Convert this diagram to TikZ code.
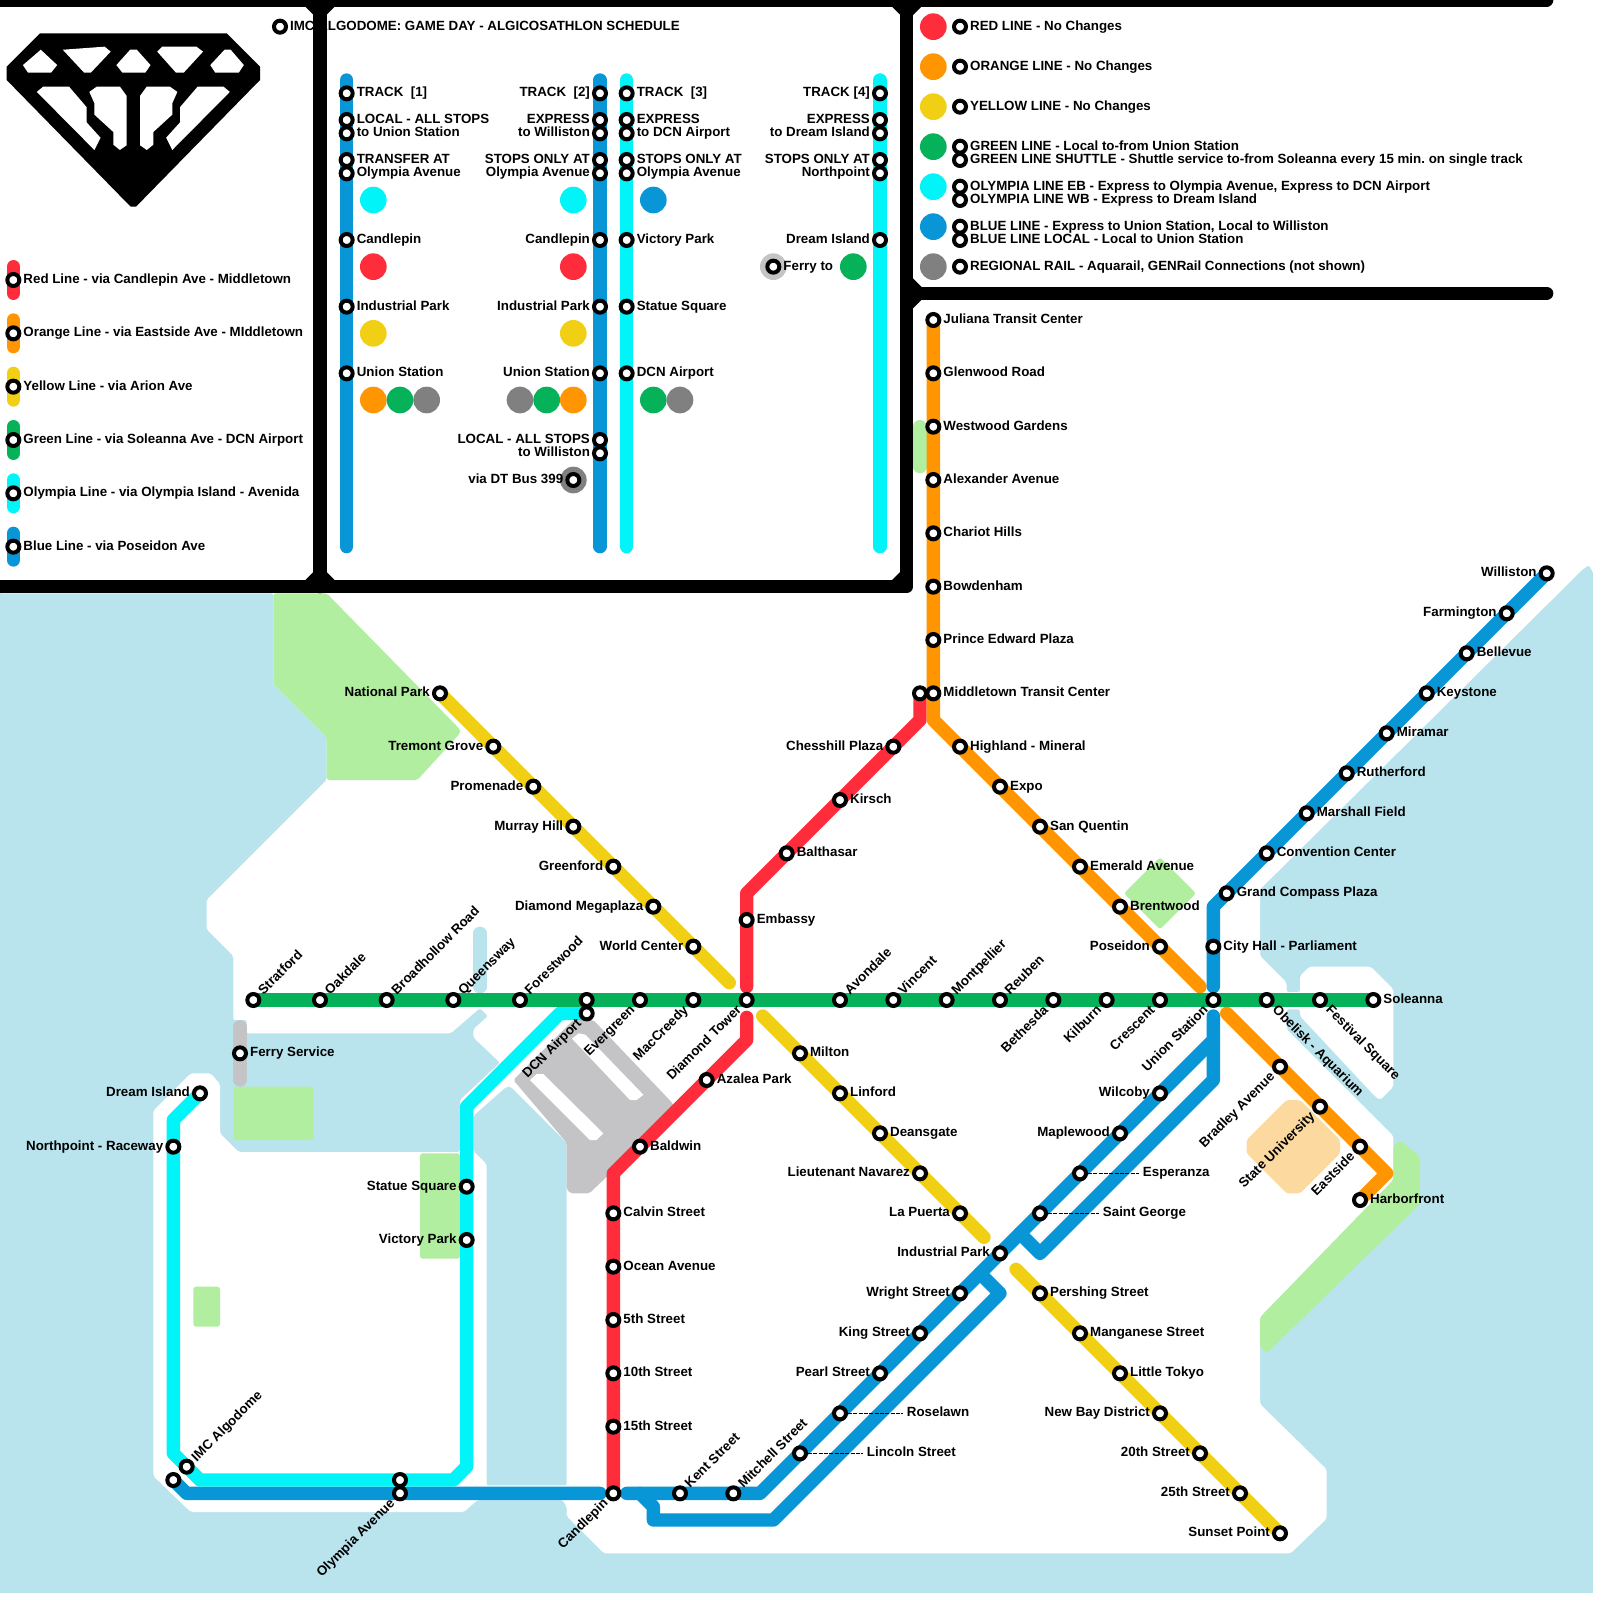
\documentclass[tikz,border=0pt]{standalone}
\usepackage{fontspec}
\setmainfont{Liberation Sans}
\pgfdeclarelayer{land}
\pgfdeclarelayer{lines}
\pgfsetlayers{land,lines,main}
\definecolor{redln}{HTML}{FF2D3C}
\definecolor{orangeln}{HTML}{FF9500}
\definecolor{yellowln}{HTML}{F0CF15}
\definecolor{greenln}{HTML}{05B25A}
\definecolor{cyanln}{HTML}{00F4F8}
\definecolor{blueln}{HTML}{0896D7}
\definecolor{greyln}{HTML}{808080}
\definecolor{ferryln}{HTML}{C4C4C6}
\definecolor{water}{HTML}{B9E4EE}
\definecolor{park}{HTML}{B1EE9F}
\definecolor{campus}{HTML}{FCD99F}
\tikzset{
  stn/.style={circle,draw=black,fill=white,line width=3bp,minimum size=9bp,inner sep=0pt},
  disc/.style={circle,minimum size=20bp,inner sep=0pt},
  txt/.style={inner sep=0pt,font=\bfseries\fontsize{10bp}{10bp}\selectfont\frenchspacing},
  rlbl/.style={txt,xshift=7.4bp,yshift=-2.7bp,anchor=base west},
  llbl/.style={txt,xshift=-7.4bp,yshift=-2.7bp,anchor=base east},
  nelbl/.style={txt,xshift=7.5bp,yshift=3.3bp,rotate=45,anchor=base west},
  swlbl/.style={txt,xshift=-3.3bp,yshift=-8bp,rotate=45,anchor=base east},
  selbl/.style={txt,xshift=3.8bp,yshift=-8bp,rotate=-45,anchor=base west},
  nolbl/.style={txt},
  route/.style={line width=10bp,line cap=round,line join=round},
  bar/.style={line width=10bp,line cap=round,line join=round,draw=black},
  leader/.style={draw=black,line width=.8bp,dash pattern=on 3bp off 1bp},
  green area/.style={fill=park,rounded corners=2bp}
}
\begin{document}
\begin{tikzpicture}[x=10bp,y=-10bp]
\useasboundingbox (0,0) rectangle (120,120);
% water and land
\begin{pgfonlayer}{land}
\fill[water] (0,42) rectangle (119.5,119.5);
\fill[white,rounded corners=1.5bp] (0,0) -- (120,0) -- (120,43.2) -- (119.6,43.2) -- (119.2,42.4) -- (118.8,42.6) -- (94.5,66.7) -- (94.5,71.7) -- (96.5,73.7) -- (96.5,74.4) -- (97.5,74.4) -- (97.5,73.2) -- (98.2,72.5) -- (102.8,72.5) -- (104.5,74.2) -- (104.5,81.5) -- (103.5,82.5) -- (103.1,82.2) -- (97.5,76.2) -- (97.5,75.7) -- (96.5,75.7) -- (96.5,77.2) -- (104.5,85.2) -- (104.5,88.5) -- (94.5,98.8) -- (94.5,105.3) -- (99.5,110.2) -- (99.5,113.9) -- (96.8,116.5) -- (45.3,116.5) -- (42.5,113.7) -- (42.5,113) -- (42.2,112.5) -- (35.8,112.5) -- (34.8,113.4) -- (14.3,113.4) -- (11.5,110.7) -- (11.5,83.3) -- (14.3,80.5) -- (15.8,80.5) -- (16.5,81.3) -- (16.5,85) -- (17.9,86.4) -- (34.5,86.4) -- (34.5,82.5) -- (37.5,79.7) -- (35.5,77.8) -- (35.5,77.2) -- (36.6,76.2) -- (36,75.6) -- (33.8,77.5) -- (18.5,77.5) -- (18.5,76.5) -- (17.5,76.5) -- (17.5,71.7) -- (15.5,69.7) -- (15.5,67.5) -- (24.5,58.5) -- (24.5,55.3) -- (20.5,51.3) -- (20.5,44.5) -- (0,44.5) -- cycle;
\fill[water,rounded corners=1.5bp] (35.5,83.7) -- (38,81.5) -- (38.3,81.5) -- (42.5,85.7) -- (42.5,111.4) -- (36.5,111.4) -- (36.5,87.3) -- (35.5,86.3) -- cycle;
\draw[water,route] (36,70) -- (36,74);
% parks
\fill[green area] (20.5,44.5) -- (24.5,44.5) -- (34.5,54.7) -- (34.5,55) -- (31.3,58.5) -- (24.5,58.5) -- (24.5,55.3) -- (20.5,51.3) -- cycle;
\fill[green area] (17.5,81.5) rectangle (23.5,85.5);
\fill[green area] (31.5,86.5) rectangle (34.5,94.4);
\fill[green area] (14.5,96.5) rectangle (16.5,99.5);
\fill[green area] (87,64.3) -- (89.7,67) -- (87,69.7) -- (84.3,67) -- cycle;
\fill[green area] (94.5,98.8) -- (104.5,88.5) -- (104.5,86) -- (105,85.5) -- (106.5,86.75) -- (106.5,90.3) -- (95,101.5) -- (94.5,101) -- cycle;
\draw[park,route] (69,32) -- (69,35);
\fill[campus,rounded corners=2bp] (96.5,82.5) -- (97.5,82.5) -- (100.5,85.5) -- (100.5,86.5) -- (97.5,89.5) -- (96.5,89.5) -- (93.5,86.5) -- (93.5,85.5) -- cycle;
% airport
\fill[ferryln,rounded corners=1.5bp] (38.5,81) -- (43,76.5) -- (44.5,76.5) -- (50.5,82.8) -- (50.5,83.5) -- (44.2,89.5) -- (42.8,89.5) -- (42.5,89.2) -- (42.5,85.7) -- cycle;
\fill[white] (42.9,77.9) -- (43.4,77.5) -- (43.9,77.6) -- (48.25,82.1) -- (47.75,82.5) -- (47.25,82.5) -- cycle;
\fill[white] (39.75,81) -- (40.25,80.55) -- (40.75,80.55) -- (45.25,85) -- (44.75,85.5) -- (44.25,85.5) -- cycle;
\end{pgfonlayer}
% logo
\fill[black] (3,2.5) -- (17,2.5) -- (19.5,5) -- (19.5,6) -- (10.2,15.5) -- (9.8,15.5) -- (0.5,6) -- (0.5,5) -- cycle;
\fill[white] (1.72,4.88) -- (3.06,3.73) -- (4.29,4.88) -- (3.83,5.45) -- (2.1,5.45) -- cycle;
\fill[white] (4.71,3.73) -- (7.85,3.5) -- (8.3,3.87) -- (6.81,5.45) -- (6.31,5.45) -- cycle;
\fill[white] (8.73,4.88) -- (9.76,3.73) -- (10.26,3.73) -- (11.29,4.88) -- (10.9,5.45) -- (9.18,5.45) -- cycle;
\fill[white] (11.79,3.87) -- (12.17,3.5) -- (14.73,3.5) -- (15.23,3.87) -- (13.78,5.45) -- (13.2,5.45) -- cycle;
\fill[white] (15.77,4.88) -- (16.84,3.73) -- (17.3,3.73) -- (18.29,4.88) -- (17.91,5.45) -- (16.15,5.45) -- cycle;
\fill[white] (2.76,6.89) -- (3.25,6.49) -- (5.17,6.49) -- (6.5,8.04) -- (6.5,9.18) -- (7.54,10.33) -- (7.08,11.25) -- cycle;
\fill[white] (6.7,6.89) -- (7.27,6.49) -- (8.99,6.49) -- (9.49,7.18) -- (9.49,10.9) -- (8.99,11.25) -- (8.5,10.85) -- (8.5,9.9) -- (7.08,8.6) -- (7.08,7.75) -- cycle;
\fill[white] (13.3,6.89) -- (12.73,6.49) -- (11.01,6.49) -- (10.51,7.18) -- (10.51,10.9) -- (11.01,11.25) -- (11.5,10.85) -- (11.5,9.9) -- (12.92,8.6) -- (12.92,7.75) -- cycle;
\fill[white] (17.24,6.89) -- (16.75,6.49) -- (14.83,6.49) -- (13.5,8.04) -- (13.5,9.18) -- (12.46,10.33) -- (12.92,11.25) -- cycle;
% colour discs
\foreach \nm/\px/\py/\col in {da/28/15/cyanln,db/28/20/redln,dc/28/25/yellowln,dd/28/30/orangeln,de/30/30/greenln,df/32/30/greyln,
  dg/43/15/cyanln,dh/43/20/redln,di/43/25/yellowln,dj/39/30/greyln,dk/41/30/greenln,dl/43/30/orangeln,dm/43/36/greyln,
  dn/49/15/blueln,dp/49/30/greenln,dq/51/30/greyln,dr/58/20/ferryln,ds/64/20/greenln,
  kred/70/2/redln,korange/70/5/orangeln,kyellow/70/8/yellowln,kgreen/70/11/greenln,kcyan/70/14/cyanln,kblue/70/17/blueln,kgrey/70/20/greyln}
  {\node[disc,fill=\col] (\nm) at (\px,\py) {};}
% panel stations and the whole map
\foreach \nm/\px/\py/\st/\tx in {
  title/21/2/rlbl/{IMC ALGODOME: GAME DAY - ALGICOSATHLON SCHEDULE},
  lgred/1/21/rlbl/{Red Line - via Candlepin Ave - Middletown},
  lgorange/1/25/rlbl/{Orange Line - via Eastside Ave - MIddletown},
  lgyellow/1/29/rlbl/{Yellow Line - via Arion Ave},
  lggreen/1/33/rlbl/{Green Line - via Soleanna Ave - DCN Airport},
  lgcyan/1/37/rlbl/{Olympia Line - via Olympia Island - Avenida},
  lgblue/1/41/rlbl/{Blue Line - via Poseidon Ave},
  ta/26/7/rlbl/{TRACK\ \ [1]},tb/26/9/rlbl/{LOCAL - ALL STOPS},tc/26/10/rlbl/{to Union Station},
  td/26/12/rlbl/{TRANSFER AT},te/26/13/rlbl/{Olympia Avenue},tf/26/18/rlbl/{Candlepin},
  tg/26/23/rlbl/{Industrial Park},th/26/28/rlbl/{Union Station},
  ua/45/7/llbl/{TRACK\ \ [2]},ub/45/9/llbl/{EXPRESS},uc/45/10/llbl/{to Williston},
  ud/45/12/llbl/{STOPS ONLY AT},ue/45/13/llbl/{Olympia Avenue},uf/45/18/llbl/{Candlepin},
  ug/45/23/llbl/{Industrial Park},uh/45/28/llbl/{Union Station},ui/45/33/llbl/{LOCAL - ALL STOPS},
  uj/45/34/llbl/{to Williston},uk/43/36/llbl/{via DT Bus 399},
  va/47/7/rlbl/{TRACK\ \ [3]},vb/47/9/rlbl/{EXPRESS},vc/47/10/rlbl/{to DCN Airport},
  vd/47/12/rlbl/{STOPS ONLY AT},ve/47/13/rlbl/{Olympia Avenue},vf/47/18/rlbl/{Victory Park},
  vg/47/23/rlbl/{Statue Square},vh/47/28/rlbl/{DCN Airport},
  wa/66/7/llbl/{TRACK [4]},wb/66/9/llbl/{EXPRESS},wc/66/10/llbl/{to Dream Island},
  wd/66/12/llbl/{STOPS ONLY AT},we/66/13/llbl/{Northpoint},wf/66/18/llbl/{Dream Island},
  wg/58/20/rlbl/{Ferry to},
  ka/72/2/rlbl/{RED LINE - No Changes},kb/72/5/rlbl/{ORANGE LINE - No Changes},kc/72/8/rlbl/{YELLOW LINE - No Changes},
  kd/72/11/rlbl/{GREEN LINE - Local to-from Union Station},
  ke/72/12/rlbl/{GREEN LINE SHUTTLE - Shuttle service to-from Soleanna every 15 min. on single track},
  kf/72/14/rlbl/{OLYMPIA LINE EB - Express to Olympia Avenue, Express to DCN Airport},
  kg/72/15/rlbl/{OLYMPIA LINE WB - Express to Dream Island},
  kh/72/17/rlbl/{BLUE LINE - Express to Union Station, Local to Williston},
  ki/72/18/rlbl/{BLUE LINE LOCAL - Local to Union Station},
  kj/72/20/rlbl/{REGIONAL RAIL - Aquarail, GENRail Connections (not shown)},
  % green
  stratford/19/75/nelbl/{Stratford},oakdale/24/75/nelbl/{Oakdale},broadhollow/29/75/nelbl/{Broadhollow Road},
  queensway/34/75/nelbl/{Queensway},forestwood/39/75/nelbl/{Forestwood},dcntop/44/75/nolbl/{},
  dcn/44/76/swlbl/{DCN Airport},evergreen/48/75/swlbl/{Evergreen},maccreedy/52/75/swlbl/{MacCreedy},
  diamondtower/56/75/swlbl/{Diamond Tower},avondale/63/75/nelbl/{Avondale},vincent/67/75/nelbl/{Vincent},
  montpellier/71/75/nelbl/{Montpellier},reuben/75/75/nelbl/{Reuben},bethesda/79/75/swlbl/{Bethesda},
  kilburn/83/75/swlbl/{Kilburn},crescent/87/75/swlbl/{Crescent},union/91/75/swlbl/{Union Station},
  obelisk/95/75/selbl/{Obelisk - Aquarium},festival/99/75/selbl/{Festival Square},soleanna/103/75/rlbl/{Soleanna},
  % yellow
  national/33/52/llbl/{National Park},tremont/37/56/llbl/{Tremont Grove},promenade/40/59/llbl/{Promenade},
  murray/43/62/llbl/{Murray Hill},greenford/46/65/llbl/{Greenford},megaplaza/49/68/llbl/{Diamond Megaplaza},
  worldcenter/52/71/llbl/{World Center},milton/60/79/rlbl/{Milton},linford/63/82/rlbl/{Linford},
  deansgate/66/85/rlbl/{Deansgate},navarez/69/88/llbl/{Lieutenant Navarez},lapuerta/72/91/llbl/{La Puerta},
  industrial/75/94/llbl/{Industrial Park},pershing/78/97/rlbl/{Pershing Street},manganese/81/100/rlbl/{Manganese Street},
  tokyo/84/103/rlbl/{Little Tokyo},newbay/87/106/llbl/{New Bay District},twentieth/90/109/llbl/{20th Street},
  twentyfifth/93/112/llbl/{25th Street},sunset/96/115/llbl/{Sunset Point},
  % red
  candlepin/46/112/swlbl/{Candlepin},fifteenth/46/107/rlbl/{15th Street},tenth/46/103/rlbl/{10th Street},
  fifth/46/99/rlbl/{5th Street},ocean/46/95/rlbl/{Ocean Avenue},calvin/46/91/rlbl/{Calvin Street},
  baldwin/48/86/rlbl/{Baldwin},azalea/53/81/rlbl/{Azalea Park},embassy/56/69/rlbl/{Embassy},
  balthasar/59/64/rlbl/{Balthasar},kirsch/63/60/rlbl/{Kirsch},chesshill/67/56/llbl/{Chesshill Plaza},redend/69/52/nolbl/{},
  % orange
  juliana/70/24/rlbl/{Juliana Transit Center},glenwood/70/28/rlbl/{Glenwood Road},westwood/70/32/rlbl/{Westwood Gardens},
  alexander/70/36/rlbl/{Alexander Avenue},chariot/70/40/rlbl/{Chariot Hills},bowdenham/70/44/rlbl/{Bowdenham},
  princeedward/70/48/rlbl/{Prince Edward Plaza},middletown/70/52/rlbl/{Middletown Transit Center},
  highland/72/56/rlbl/{Highland - Mineral},expo/75/59/rlbl/{Expo},sanquentin/78/62/rlbl/{San Quentin},
  emerald/81/65/rlbl/{Emerald Avenue},brentwood/84/68/rlbl/{Brentwood},poseidon/87/71/llbl/{Poseidon},
  bradley/96/80/swlbl/{Bradley Avenue},stateu/99/83/swlbl/{State University},eastside/102/86/swlbl/{Eastside},
  harborfront/102/90/rlbl/{Harborfront},
  % blue
  williston/116/43/llbl/{Williston},farmington/113/46/llbl/{Farmington},bellevue/110/49/rlbl/{Bellevue},
  keystone/107/52/rlbl/{Keystone},miramar/104/55/rlbl/{Miramar},rutherford/101/58/rlbl/{Rutherford},
  marshall/98/61/rlbl/{Marshall Field},convention/95/64/rlbl/{Convention Center},compass/92/67/rlbl/{Grand Compass Plaza},
  cityhall/91/71/rlbl/{City Hall - Parliament},wilcoby/87/82/llbl/{Wilcoby},maplewood/84/85/llbl/{Maplewood},
  wright/72/97/llbl/{Wright Street},king/69/100/llbl/{King Street},pearl/66/103/llbl/{Pearl Street},
  mitchell/55/112/nelbl/{Mitchell Street},kent/51/112/nelbl/{Kent Street},olympia/30/112/swlbl/{Olympia Avenue},
  blueend/13/111/nolbl/{},
  % olympia line and ferry
  dreamisland/15/82/llbl/{Dream Island},northpoint/13/86/llbl/{Northpoint - Raceway},imc/14/110/nelbl/{IMC Algodome},
  olympiatop/30/111/nolbl/{},statue/35/89/llbl/{Statue Square},victory/35/93/llbl/{Victory Park},
  ferry/18/79/rlbl/{Ferry Service}}
  {\node[stn] (\nm) at (\px,\py) {};
   \node[\st] (\nm-txt) at (\nm.center) {\tx};}
% stations with a dashed line to their name
\foreach \nm/\px/\py/\qx/\tx in {esperanza/81/88/85.4/Esperanza,saintgeorge/78/91/82.4/Saint George,
  roselawn/63/106/67.7/Roselawn,lincoln/60/109/64.7/Lincoln Street}
  {\node[stn] (\nm) at (\px,\py) {};
   \coordinate (\nm-end) at (\qx,\py);
   \draw[leader] (\nm) -- (\nm-end);
   \node[rlbl,xshift=-4.4bp] (\nm-txt) at (\nm-end) {\tx};}
% bends
\foreach \nm/\px/\py in {ra/46/88,rb/56/78,rc/56/76.3,rd/56/74,re/56/67,rf/69/54,
  oa/70/54,ob/90/74,oc/92/76,od/104/88,
  ya/54.7/73.7,yb/57.2/76.2,yc/73.8/92.8,yd/76.2/95.2,
  ba/91/68,bb/91/74,bc/91/76.2,bd/91/78,be/57/112,bf/47/112,bg/45/112,bh/14/112,
  bi/91/81,bj/78/94,bk/76.5/92.5,bl/73.5/95.5,bm/75/97,bn/58/114,bo/49/114,bp/49/113,bq/48/112,
  ca/13/84,cb/13/109,cc/15/111,cd/34/111,ce/35/110,cf/35/83,cg/42/76,
  fa/18/77,fb/18/81,
  tt1/26/6,tt2/26/41,tt3/45/6,tt4/45/41,tt5/47/6,tt6/47/41,tt7/66/6,tt8/66/41}
  {\coordinate (\nm) at (\px,\py);}
\begin{pgfonlayer}{lines}
\draw[route,ferryln] (fa) -- (fb);
\draw[route,redln] (candlepin.center) -- (ra) -- (rb) -- (rc);
\draw[route,redln] (rd) -- (re) -- (rf) -- (redend.center);
\draw[route,orangeln] (juliana.center) -- (oa) -- (ob);
\draw[route,orangeln] (oc) -- (od) -- (harborfront.center);
\draw[route,yellowln] (national.center) -- (ya);
\draw[route,yellowln] (yb) -- (yc);
\draw[route,yellowln] (yd) -- (sunset.center);
\draw[route,blueln] (williston.center) -- (ba) -- (bb);
\draw[route,blueln] (bc) -- (bd) -- (be) -- (bf);
\draw[route,blueln] (bg) -- (bh) -- (blueend.center);
\draw[route,blueln] (bd) -- (bi) -- (bj) -- (bk);
\draw[route,blueln] (bl) -- (bm) -- (bn) -- (bo) -- (bp) -- (bq);
\draw[route,cyanln] (dreamisland.center) -- (ca) -- (cb) -- (cc) -- (cd) -- (ce) -- (cf) -- (cg) -- (dcn.center);
\draw[route,greenln] (stratford.center) -- (soleanna.center);
% panel tracks and legend pills
\draw[route,blueln] (tt1) -- (tt2);
\draw[route,blueln] (tt3) -- (tt4);
\draw[route,cyanln] (tt5) -- (tt6);
\draw[route,cyanln] (tt7) -- (tt8);
\foreach \nm/\col in {lgred/redln,lgorange/orangeln,lgyellow/yellowln,lggreen/greenln,lgcyan/cyanln,lgblue/blueln}
  {\draw[route,\col] ([yshift=10bp]\nm.center) -- ([yshift=-10bp]\nm.center);}
\end{pgfonlayer}
% panel bars
\draw[bar] (-1,0) -- (116,0);
\draw[bar] (-1,44) -- (68,44) -- (68,0);
\draw[bar] (24,0) -- (24,44);
\draw[bar] (68,22) -- (116,22);
\foreach \cx/\cy/\sx/\sy in {24/0/-1/1,24/0/1/1,24/44/-1/-1,24/44/1/-1,68/0/-1/1,68/0/1/1,68/22/1/-1,68/22/1/1,68/44/-1/-1}
  {\fill[black] ({\cx+\sx*.4},{\cy+\sy*.4}) -- ({\cx+\sx*1.2},{\cy+\sy*.4}) -- ({\cx+\sx*.4},{\cy+\sy*1.2}) -- cycle;}
\end{tikzpicture}
\end{document}
